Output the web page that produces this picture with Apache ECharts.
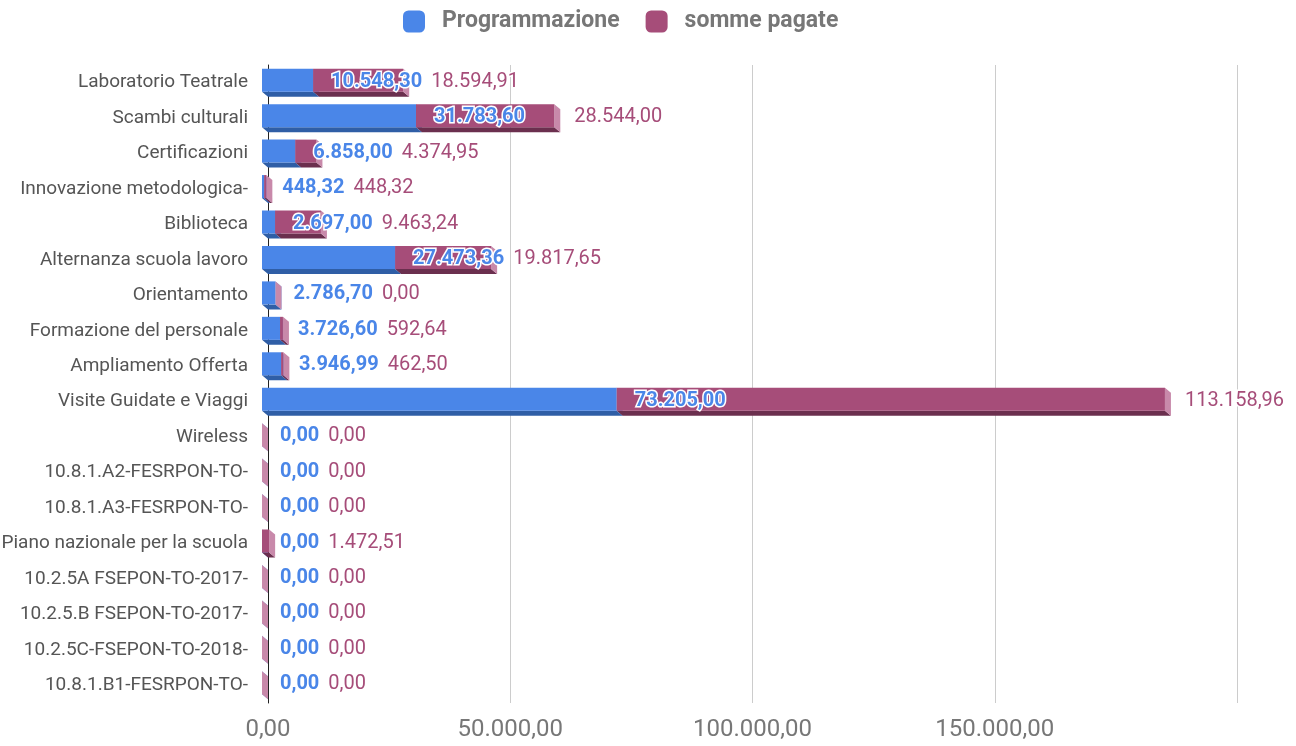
<!DOCTYPE html>
<html>
<head>
<meta charset="utf-8">
<script src="https://cdn.jsdelivr.net/npm/echarts@6/dist/echarts.min.js"></script>
<style>
  html, body { margin: 0; padding: 0; background: #fff; }
  #chart { width: 1296px; height: 746px; }
</style>
</head>
<body>
<div id="chart"></div>
<script>
const categories = [
  'Laboratorio Teatrale', 'Scambi culturali', 'Certificazioni', 'Innovazione metodologica-',
  'Biblioteca', 'Alternanza scuola lavoro', 'Orientamento', 'Formazione del personale',
  'Ampliamento Offerta', 'Visite Guidate e Viaggi', 'Wireless', '10.8.1.A2-FESRPON-TO-',
  '10.8.1.A3-FESRPON-TO-', 'Piano nazionale per la scuola', '10.2.5A FSEPON-TO-2017-',
  '10.2.5.B FSEPON-TO-2017-', '10.2.5C-FSEPON-TO-2018-', '10.8.1.B1-FESRPON-TO-'
]
const programmazione = [10548.30, 31783.60, 6858.00, 448.32, 2697.00, 27473.36, 2786.70, 3726.60, 3946.99, 73205.00, 0, 0, 0, 0, 0, 0, 0, 0]
const sommePagate = [18594.91, 28544.00, 4374.95, 448.32, 9463.24, 19817.65, 0.00, 592.64, 462.50, 113158.96, 0, 0, 0, 1472.51, 0, 0, 0, 0]
const axisMax = 200000
const tickStep = 50000

// 3D offset of the bar front face
const DX = 6
const DY = 5
const BLUE = { face: '#4a86e8', bottom: '#2f5ea6', side: '#7aa6ee' }
const PURPLE = { face: '#a64d79', bottom: '#6b2f4e', side: '#c889aa' }
const labelFontBlue = 'bold 20px Roboto'
const labelFontPurple = '20px Roboto'

// formato italiano 1.234,56
const fmt = (v) => {
  const parts = Number(v).toFixed(2).split('.')
  return parts[0].replace(/\B(?=(\d{3})+(?!\d))/g, '.') + ',' + parts[1]
}

const measureCtx = document.createElement('canvas').getContext('2d')
const textWidth = (text, font) => {
  measureCtx.font = font
  return measureCtx.measureText(text).width
}

const makeRenderer = (colors, withLabels) => (params, api) => {
  const cat = api.value(2)
  const start = api.coord([api.value(0), cat])
  const end = api.coord([api.value(1), cat])
  const x0 = start[0] - DX
  const x1 = end[0] - DX
  const top = start[1] - 14
  const bottom = start[1] + 9
  const children = [
    { type: 'polygon', shape: { points: [[x0, bottom], [x1, bottom], [x1 + DX, bottom + DY], [x0 + DX, bottom + DY]] }, style: { fill: colors.bottom } },
    { type: 'polygon', shape: { points: [[x1, top], [x1 + DX, top + DY], [x1 + DX, bottom + DY], [x1, bottom]] }, style: { fill: colors.side } },
    { type: 'rect', shape: { x: x0, y: top, width: x1 - x0, height: bottom - top }, style: { fill: colors.face } }
  ]
  if (withLabels) {
    const i = params.dataIndex
    const blueEnd = api.coord([programmazione[i], cat])[0] - DX
    const blueText = fmt(programmazione[i])
    const blueX = blueEnd + 18
    const purpleText = fmt(sommePagate[i])
    const purpleX = Math.max(x1 + 20, blueX + textWidth(blueText, labelFontBlue) + 9)
    const ly = start[1] - 1
    children.push({
      type: 'text', z2: 10,
      style: { text: blueText, x: blueX, y: ly, font: labelFontBlue, fill: BLUE.face, stroke: '#fff', lineWidth: 3, align: 'left', verticalAlign: 'middle' }
    })
    children.push({
      type: 'text', z2: 10,
      style: { text: purpleText, x: purpleX, y: ly, font: labelFontPurple, fill: PURPLE.face, stroke: '#fff', lineWidth: 3, align: 'left', verticalAlign: 'middle' }
    })
  }
  return { type: 'group', children }
}

const blueData = programmazione.map((v, i) => [0, v, i])
const purpleData = sommePagate.map((v, i) => [programmazione[i], programmazione[i] + v, i])

const chart = echarts.init(document.getElementById('chart'))
chart.setOption({
  animation: false,
  legend: {
    top: 5,
    left: 398,
    data: ['Programmazione', 'somme pagate'],
    icon: 'roundRect',
    itemWidth: 22,
    itemHeight: 22,
    itemGap: 26,
    textStyle: { fontFamily: 'Roboto', fontSize: 23, fontWeight: 'bold', color: '#777', padding: [0, 0, 0, 12] }
  },
  grid: { left: 268, right: 59, top: 65, bottom: 43, containLabel: false, outerBoundsMode: 'none' },
  xAxis: {
    type: 'value',
    min: 0,
    max: axisMax,
    interval: tickStep,
    axisLine: { show: false },
    axisTick: { show: false },
    splitLine: { lineStyle: { color: '#cccccc', width: 1 } },
    axisLabel: {
      formatter: (v) => fmt(v),
      showMaxLabel: false,
      margin: 15,
      fontFamily: 'Roboto',
      fontSize: 24,
      color: '#777'
    }
  },
  yAxis: {
    type: 'category',
    inverse: true,
    data: categories,
    axisLine: { show: true, lineStyle: { color: '#222', width: 1 } },
    axisTick: { show: false },
    axisLabel: { margin: 20, fontFamily: 'Roboto', fontSize: 19, color: '#555' }
  },
  series: [
    {
      name: 'Programmazione',
      type: 'custom',
      itemStyle: { color: BLUE.face },
      encode: { x: [0, 1], y: 2 },
      renderItem: makeRenderer(BLUE, false),
      data: blueData
    },
    {
      name: 'somme pagate',
      type: 'custom',
      itemStyle: { color: PURPLE.face },
      encode: { x: [0, 1], y: 2 },
      renderItem: makeRenderer(PURPLE, true),
      data: purpleData
    }
  ]
})
</script>
</body>
</html>
